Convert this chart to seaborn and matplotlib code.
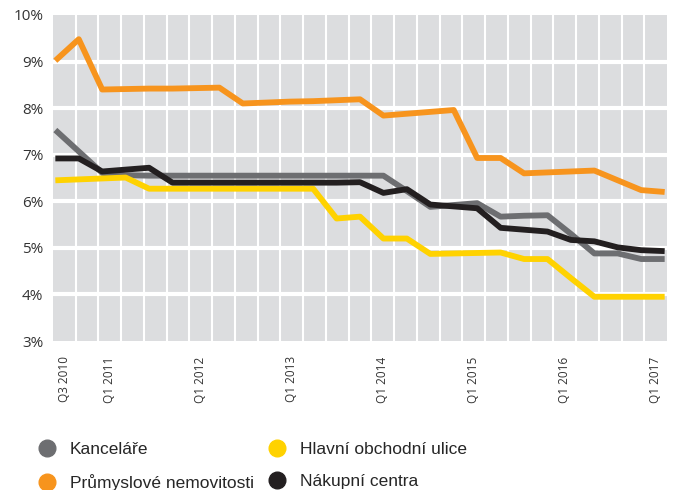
import numpy as np
import pandas as pd
import matplotlib
matplotlib.use("Agg")
import matplotlib.pyplot as plt
from matplotlib.lines import Line2D
import seaborn as sns

# quarters from Q3 2010 to Q1 2017
quarters = np.arange(27)
tick_idx = [0, 2, 6, 10, 14, 18, 22, 26]
tick_labels = ["Q3 2010", "Q1 2011", "Q1 2012", "Q1 2013",
               "Q1 2014", "Q1 2015", "Q1 2016", "Q1 2017"]

kancelare = [7.53, 7.07, 6.61, 6.56, 6.55, 6.55, 6.55, 6.55, 6.55, 6.55,
             6.55, 6.55, 6.55, 6.55, 6.55, 6.22, 5.88, 5.92, 5.96, 5.67,
             5.69, 5.70, 5.30, 4.88, 4.88, 4.76, 4.76]
prumysl = [9.02, 9.48, 8.40, 8.41, 8.42, 8.42, 8.43, 8.44, 8.10, 8.12,
           8.14, 8.15, 8.17, 8.19, 7.84, 7.88, 7.92, 7.96, 6.93, 6.93,
           6.60, 6.62, 6.64, 6.66, 6.45, 6.24, 6.20]
hlavni = [6.45, 6.47, 6.49, 6.51, 6.27, 6.27, 6.27, 6.27, 6.27, 6.27,
          6.27, 6.27, 5.63, 5.67, 5.20, 5.20, 4.87, 4.88, 4.89, 4.90,
          4.76, 4.76, 4.35, 3.95, 3.95, 3.95, 3.95]
nakupni = [6.92, 6.92, 6.64, 6.68, 6.72, 6.40, 6.40, 6.40, 6.40, 6.40,
           6.40, 6.40, 6.40, 6.41, 6.18, 6.26, 5.93, 5.89, 5.85, 5.43,
           5.39, 5.35, 5.17, 5.14, 5.01, 4.95, 4.93]

series = {
    "Kanceláře": kancelare,
    "Hlavní obchodní ulice": hlavni,
    "Průmyslové nemovitosti": prumysl,
    "Nákupní centra": nakupni,
}
colors = {
    "Kanceláře": "#6d6e71",
    "Průmyslové nemovitosti": "#f7941d",
    "Hlavní obchodní ulice": "#ffd200",
    "Nákupní centra": "#231f20",
}

df = pd.concat([pd.DataFrame({"q": quarters, "value": v, "typ": k})
                for k, v in series.items()], ignore_index=True)

sns.set_style("white")
plt.rcParams['font.family'] = ['Open Sans', 'DejaVu Sans']

fig = plt.figure(figsize=(6.76, 4.9), dpi=100)
ax = fig.add_axes([53 / 676, 1 - 341 / 490, 614 / 676, (341 - 15) / 490])
ax.set_facecolor("#dcdddf")

x0, x1 = -0.1, 26.1
ax.set_xlim(x0, x1)
ax.set_ylim(3, 10)

# white cell boundaries (27 quarter cells)
ncell = len(quarters)
bounds = x0 + (np.arange(1, ncell) / ncell) * (x1 - x0)
for b in bounds:
    ax.axvline(b, color="white", lw=1.5, zorder=1)
for yv in range(4, 10):
    ax.axhline(yv, color="white", lw=3.0, zorder=1)

sns.lineplot(data=df, x="q", y="value", hue="typ", palette=colors,
             hue_order=list(series.keys()), ax=ax, lw=4.2, legend=False,
             solid_capstyle="butt", zorder=3)

centers = x0 + ((np.array(tick_idx) + 0.5) / ncell) * (x1 - x0)
ax.set_xticks(centers)
ax.set_xticklabels(tick_labels, rotation=90, fontsize=8.5, color="#333333")
ax.set_yticks(range(3, 11))
ax.set_yticklabels([f"{v}%" for v in range(3, 11)], fontsize=11, color="#333333")
ax.tick_params(axis="x", length=0, pad=11)
ax.tick_params(axis="y", length=0, pad=7)
ax.set_xlabel("")
ax.set_ylabel("")
for s in ax.spines.values():
    s.set_visible(False)

order = ["Kanceláře", "Průmyslové nemovitosti", "Hlavní obchodní ulice", "Nákupní centra"]
handles = [Line2D([], [], marker="o", ls="", markersize=12,
                  markerfacecolor=colors[k], markeredgecolor=colors[k]) for k in order]
fig.legend(handles, order, ncol=2, loc="upper left", bbox_to_anchor=(0.057, 0.099),
           frameon=False, handletextpad=0.8, columnspacing=0.85, labelspacing=1.0,
           prop={"family": "Liberation Sans", "size": 12.5}, handlelength=1.0,
           borderaxespad=0, borderpad=0)

fig.savefig("out.png", dpi=100, facecolor="white")
